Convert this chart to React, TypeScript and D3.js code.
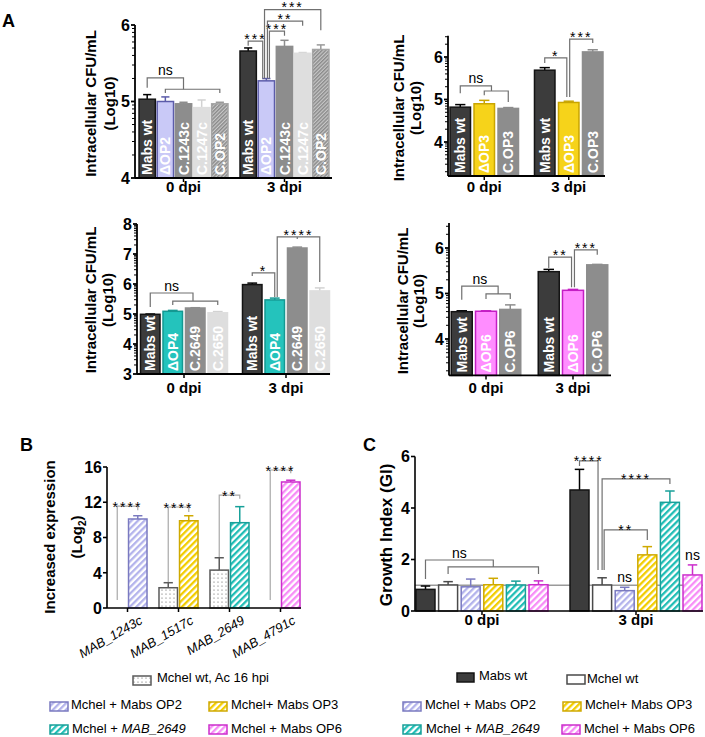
import React from "react";
import * as d3 from "d3";

const FONT = "'Liberation Sans', Arial, Helvetica, sans-serif";

// ================= DATA =================
const dpiGroups = ["0 dpi", "3 dpi"];

// Panel A (top-left) – OP2
const a1Strains = ["Mabs wt", "ΔOP2", "C.1243c", "C.1247c", "C.OP2"];
const a1Mean = [
  [5.03, 5.0, 4.97, 4.92, 4.97],
  [5.66, 5.27, 5.72, 5.63, 5.68],
];
const a1Err = [
  [0.06, 0.06, 0.02, 0.1, 0.02],
  [0.04, 0.03, 0.08, 0.01, 0.06],
];
const a1Ticks = [4, 5, 6];
const a1Sig = [
  { g: 0, s1: 0, s2: 2, level: 5.31, d1: 5.18, d2: 5.16, label: "ns" },
  { g: 0, s1: 1, s2: 4, level: 5.16, d1: 5.11, d2: 5.11, label: "" },
  { g: 1, s1: 0, s2: 0.8, level: 5.79, d1: 5.73, d2: 5.3, label: "***" },
  { g: 1, s1: 1.17, s2: 2, level: 5.92, d1: 5.3, d2: 5.86, label: "***" },
  { g: 1, s1: 1.06, s2: 3, level: 6.05, d1: 5.3, d2: 5.99, label: "**" },
  { g: 1, s1: 0.9, s2: 4, level: 6.2, d1: 5.3, d2: 5.93, label: "***" },
];

// Panel A (top-right) – OP3
const a2Strains = ["Mabs wt", "ΔOP3", "C.OP3"];
const a2Mean = [
  [4.82, 4.9, 4.79],
  [5.69, 4.93, 6.12],
];
const a2Err = [
  [0.06, 0.08, 0.02],
  [0.06, 0.03, 0.05],
];
const a2Ticks = [4, 5, 6];
const a2Sig = [
  { g: 0, s1: 0, s2: 1.3, level: 5.32, d1: 5.15, d2: 5.2, label: "ns" },
  { g: 0, s1: 1, s2: 2, level: 5.2, d1: 5.1, d2: 4.94, label: "" },
  { g: 1, s1: 0, s2: 0.92, level: 5.98, d1: 5.86, d2: 5.06, label: "*" },
  { g: 1, s1: 1.04, s2: 2, level: 6.42, d1: 5.06, d2: 6.33, label: "***" },
];

// Panel A (bottom-left) – OP4
const a3Strains = ["Mabs wt", "ΔOP4", "C.2649", "C.2650"];
const a3Mean = [
  [4.99, 5.09, 5.2, 5.04],
  [5.98, 5.47, 7.2, 5.77],
];
const a3Err = [
  [0.01, 0.03, 0.01, 0.04],
  [0.05, 0.06, 0.03, 0.1],
];
const a3Ticks = [3, 4, 5, 6, 7, 8];
const a3Sig = [
  { g: 0, s1: 0, s2: 1.9, level: 5.7, d1: 5.23, d2: 5.43, label: "ns" },
  { g: 0, s1: 1, s2: 3, level: 5.43, d1: 5.3, d2: 5.3, label: "" },
  { g: 1, s1: 0, s2: 1, level: 6.37, d1: 6.27, d2: 5.57, label: "*" },
  { g: 1, s1: 1.11, s2: 3, level: 7.57, d1: 5.57, d2: 6.07, label: "****", mid: 2, midDrop: 7.5 },
];

// Panel A (bottom-right) – OP6
const a4Strains = ["Mabs wt", "ΔOP6", "C.OP6"];
const a4Mean = [
  [4.6, 4.61, 4.65],
  [5.48, 5.07, 5.63],
];
const a4Err = [
  [0.02, 0.01, 0.1],
  [0.05, 0.02, 0.01],
];
const a4Ticks = [4, 5, 6];
const a4Sig = [
  { g: 0, s1: 0, s2: 1.5, level: 5.16, d1: 4.86, d2: 4.99, label: "ns" },
  { g: 0, s1: 1, s2: 2, level: 4.99, d1: 4.88, d2: 4.88, label: "" },
  { g: 1, s1: 0, s2: 0.94, level: 5.8, d1: 5.56, d2: 5.14, label: "**" },
  { g: 1, s1: 1.06, s2: 2, level: 5.96, d1: 5.14, d2: 5.85, label: "***" },
];

// Panel B – increased expression (Log2)
const bGenes = ["MAB_1243c", "MAB_1517c", "MAB_2649", "MAB_4791c"];
const bControl = [null, 2.3, 4.3, null];
const bControlErr = [null, 0.57, 1.4, null];
const bTreated = [10.1, 9.9, 9.68, 14.3];
const bTreatedErr = [0.37, 0.57, 1.82, 0.2];
const bTicks = [0, 4, 8, 12, 16];
const bSig = [
  { g: 0, s1: 0, s2: 1, level: 11.57, d1: 0.9, d2: 11.1, label: "****" },
  { g: 1, s1: 0, s2: 1, level: 11.46, d1: 2.95, d2: 10.9, label: "****" },
  { g: 2, s1: 0, s2: 1, level: 12.8, d1: 5.8, d2: 12.4, label: "**" },
  { g: 3, s1: 0, s2: 1, level: 15.66, d1: 0.9, d2: 15.3, label: "****" },
];

// Panel C – growth index
const cSeries = ["Mabs wt", "Mchel wt", "Mchel + Mabs OP2", "Mchel+ Mabs OP3", "Mchel + MAB_2649", "Mchel + Mabs OP6"];
const cMean0 = [0.84, 1.01, 0.94, 1.02, 1.01, 1.02];
const cErr0 = [0.13, 0.13, 0.3, 0.25, 0.15, 0.15];
const cMean3 = [4.7, 1.01, 0.79, 2.18, 4.22, 1.4];
const cErr3 = [0.8, 0.28, 0.13, 0.32, 0.44, 0.39];
const cTicks = [0, 2, 4, 6];
const cRef = 1;
const cSig = [
  { g: 0, s1: 0, s2: 3, level: 1.98, d1: 1.24, d2: 1.71, label: "ns" },
  { g: 0, s1: 1, s2: 5, level: 1.71, d1: 1.44, d2: 1.44, label: "" },
  { g: 1, s1: 0, s2: 0.82, level: 5.83, d1: 5.63, d2: 1.59, label: "****" },
  { g: 1, s1: 1, s2: 4, level: 5.13, d1: 1.59, d2: 4.93, label: "****" },
  { g: 1, s1: 1.09, s2: 3, level: 3.15, d1: 1.59, d2: 2.76, label: "**" },
];
const cNs = [
  { g: 1, s: 2 },
  { g: 1, s: 5 },
];

// ================= STYLE =================
const C = {
  dark: "#3c3c3c",
  darkS: "#141414",
  lav: "#c9c9f7",
  lavS: "#5c5caa",
  gray: "#8d8d8d",
  light: "#dedede",
  yellow: "#f6d31a",
  yellowS: "#c9a500",
  teal: "#24c3bc",
  tealS: "#149892",
  pink: "#ff8dff",
  pinkS: "#c41ec4",
  hLavS: "#7a7ac0",
  hYelS: "#cfa900",
  hTealS: "#17a099",
  hPinkS: "#cc2ecc",
};

type Sig = { g: number; s1: number; s2: number; level: number; d1: number; d2: number; label: string; mid?: number; midDrop?: number };

type Spec = {
  groups: string[];
  nSeries: number;
  mean: (number | null)[][];
  err: (number | null)[][];
  domain: [number, number];
  yBot: number;
  yTop: number;
  axisX: number;
  axisEnd: number;
  x0: number;
  x1: number;
  pi: number;
  po: number;
  bp: number;
  fill: (g: number, s: number) => string;
  stroke: (g: number, s: number) => string;
  errColor: (g: number, s: number) => string;
  strokeW: number;
  ticks: number[];
  minorLog: boolean;
  tickFont: number;
  axisW: number;
  inLabels?: string[];
  inLabelSize?: number;
  sig: Sig[];
  sigColor: string;
  starDy: number;
  ns?: { g: number; s: number }[];
  xLabelDy: number;
  xLabelRot?: boolean;
  refLine?: number;
};

function Panel({ sp }: { sp: Spec }) {
  const y = d3.scaleLinear().domain(sp.domain).range([sp.yBot, sp.yTop]);
  const xg = d3
    .scaleBand<string>()
    .domain(sp.groups)
    .range([sp.x0, sp.x1])
    .paddingInner(sp.pi)
    .paddingOuter(sp.po);
  const xs = d3
    .scaleBand<number>()
    .domain(d3.range(sp.nSeries))
    .range([0, xg.bandwidth()])
    .paddingInner(sp.bp);
  const bw = xs.bandwidth();
  const gx = (g: number) => xg(sp.groups[g]) as number;
  const cx = (g: number, s: number) => gx(g) + s * xs.step() + bw / 2;
  const base = y(sp.domain[0]);
  const minor: number[] = [];
  if (sp.minorLog) {
    for (let k = Math.floor(sp.domain[0]); k <= Math.ceil(sp.domain[1]); k++) {
      for (let m = 2; m <= 9; m++) {
        const v = k + Math.log10(m);
        if (v >= sp.domain[0] && v <= sp.domain[1]) minor.push(v);
      }
    }
  }
  const capW = bw * 0.5;
  return (
    <g>
      {sp.refLine !== undefined && (
        <line x1={sp.axisX} x2={sp.axisEnd} y1={y(sp.refLine)} y2={y(sp.refLine)} stroke="#9a9a9a" strokeWidth={1.5} />
      )}
      {sp.mean.map((row, g) =>
        row.map((v, s) => {
          if (v == null) return null;
          const e = sp.err[g][s];
          const x = cx(g, s);
          return (
            <g key={`bar${g}-${s}`}>
              {e != null && (
                <g stroke={sp.errColor(g, s)} strokeWidth={1.5}>
                  <line x1={x} x2={x} y1={y(v)} y2={y(v + e)} />
                  <line x1={x - capW / 2} x2={x + capW / 2} y1={y(v + e)} y2={y(v + e)} />
                </g>
              )}
              <rect
                x={gx(g) + (xs(s) as number)}
                y={y(v)}
                width={bw}
                height={base - y(v)}
                fill={sp.fill(g, s)}
                stroke={sp.stroke(g, s)}
                strokeWidth={sp.strokeW}
              />
              {sp.inLabels && (
                <text
                  transform={`translate(${x},${base - 3}) rotate(-90)`}
                  textAnchor="start"
                  dy="0.36em"
                  fill="#fff"
                  fontWeight="bold"
                  fontSize={sp.inLabelSize}
                >
                  {sp.inLabels[s]}
                </text>
              )}
            </g>
          );
        })
      )}
      {/* axes */}
      <line x1={sp.axisX} x2={sp.axisX} y1={base} y2={y(sp.domain[1])} stroke="#000" strokeWidth={sp.axisW} />
      <line x1={sp.axisX} x2={sp.axisEnd} y1={base} y2={base} stroke="#000" strokeWidth={sp.axisW} />
      {minor.map((v, i) => (
        <line key={`mn${i}`} x1={sp.axisX - 3} x2={sp.axisX} y1={y(v)} y2={y(v)} stroke="#000" strokeWidth={1} />
      ))}
      {sp.ticks.map((t) => (
        <g key={`t${t}`}>
          <line x1={sp.axisX - 4} x2={sp.axisX} y1={y(t)} y2={y(t)} stroke="#000" strokeWidth={sp.axisW} />
          <text x={sp.axisX - 5} y={y(t)} dy="0.36em" textAnchor="end" fontWeight="bold" fontSize={sp.tickFont}>
            {t}
          </text>
        </g>
      ))}
      {sp.groups.map((gname, g) => {
        const xc = gx(g) + xg.bandwidth() / 2;
        return (
          <g key={`gx${g}`}>
            <line x1={xc} x2={xc} y1={base} y2={base + 4} stroke="#000" strokeWidth={1.5} />
            {sp.xLabelRot ? (
              <text
                transform={`translate(${xc + 16},${base + 15}) rotate(-30)`}
                textAnchor="end"
                fontStyle="italic"
                fontSize={13}
              >
                {gname}
              </text>
            ) : (
              <text x={xc} y={base + sp.xLabelDy} textAnchor="middle" fontWeight="bold" fontSize={15}>
                {gname}
              </text>
            )}
          </g>
        );
      })}
      {/* significance */}
      {sp.sig.map((b, i) => {
        const xl = cx(b.g, b.s1);
        const xr = cx(b.g, b.s2);
        const yl = y(b.level);
        let d = `M${xl},${y(b.d1)}V${yl}H${xr}V${y(b.d2)}`;
        if (b.mid !== undefined) d += `M${cx(b.g, b.mid)},${yl}V${y(b.midDrop as number)}`;
        const star = b.label.startsWith("*");
        return (
          <g key={`sig${i}`}>
            <path d={d} fill="none" stroke={sp.sigColor} strokeWidth={1.2} />
            {b.label && (
              <text
                x={(xl + xr) / 2}
                y={star ? yl + sp.starDy : yl - 2.5}
                textAnchor="middle"
                fontSize={star ? 14 : 14}
                letterSpacing={star ? 2 : 0}
              >
                {b.label}
              </text>
            )}
          </g>
        );
      })}
      {sp.ns &&
        sp.ns.map((n, i) => {
          const v = (sp.mean[n.g][n.s] as number) + (sp.err[n.g][n.s] as number);
          return (
            <text key={`ns${i}`} x={cx(n.g, n.s)} y={y(v) - 5} textAnchor="middle" fontSize={14}>
              ns
            </text>
          );
        })}
    </g>
  );
}

function YLabel({ lines, xs, cy, size }: { lines: React.ReactNode[]; xs: number[]; cy: number; size: number }) {
  return (
    <g>
      {lines.map((l, i) => (
        <text
          key={i}
          transform={`translate(${xs[i]},${cy}) rotate(-90)`}
          textAnchor="middle"
          fontWeight="bold"
          fontSize={size}
        >
          {l}
        </text>
      ))}
    </g>
  );
}

// ================= SPECS =================
const a1Fill = [C.dark, C.lav, C.gray, C.light, "url(#hGray)"];
const a1Stroke = [C.darkS, C.lavS, C.gray, C.light, "#a5a5a5"];
const a1ErrC = ["#000", C.lavS, C.gray, "#d2d2d2", "#9a9a9a"];

const a1: Spec = {
  groups: dpiGroups,
  nSeries: a1Strains.length,
  mean: a1Mean,
  err: a1Err,
  domain: [4, 6],
  yBot: 178,
  yTop: 25,
  axisX: 135,
  axisEnd: 332,
  x0: 136.5,
  x1: 331.5,
  pi: 0.119,
  po: 0.025,
  bp: 0.1,
  fill: (g, s) => a1Fill[s],
  stroke: (g, s) => a1Stroke[s],
  errColor: (g, s) => a1ErrC[s],
  strokeW: 1.5,
  ticks: a1Ticks,
  minorLog: true,
  tickFont: 16,
  axisW: 1.8,
  inLabels: a1Strains,
  inLabelSize: 14,
  sig: a1Sig,
  sigColor: "#707070",
  starDy: 2.5,
  xLabelDy: 14,
};

const a2Fill = [C.dark, C.yellow, C.gray];
const a2Stroke = [C.darkS, C.yellowS, C.gray];
const a2ErrC = ["#000", C.yellowS, C.gray];
const a2: Spec = {
  groups: dpiGroups,
  nSeries: a2Strains.length,
  mean: a2Mean,
  err: a2Err,
  domain: [3.2, 6.5],
  yBot: 176,
  yTop: 35.75,
  axisX: 448,
  axisEnd: 605,
  x0: 449,
  x1: 604,
  pi: 0.189,
  po: 0.012,
  bp: 0.146,
  fill: (g, s) => a2Fill[s],
  stroke: (g, s) => a2Stroke[s],
  errColor: (g, s) => a2ErrC[s],
  strokeW: 1.5,
  ticks: a2Ticks,
  minorLog: true,
  tickFont: 16,
  axisW: 1.8,
  inLabels: a2Strains,
  inLabelSize: 14,
  sig: a2Sig,
  sigColor: "#707070",
  starDy: 3,
  xLabelDy: 16,
};

const a3Fill = [C.dark, C.teal, C.gray, C.light];
const a3Stroke = [C.darkS, C.tealS, C.gray, C.light];
const a3ErrC = ["#000", C.tealS, C.gray, "#d2d2d2"];
const a3: Spec = {
  groups: dpiGroups,
  nSeries: a3Strains.length,
  mean: a3Mean,
  err: a3Err,
  domain: [3, 8],
  yBot: 374,
  yTop: 224,
  axisX: 137,
  axisEnd: 330,
  x0: 139,
  x1: 331,
  pi: 0.147,
  po: 0.0147,
  bp: 0.133,
  fill: (g, s) => a3Fill[s],
  stroke: (g, s) => a3Stroke[s],
  errColor: (g, s) => a3ErrC[s],
  strokeW: 1.5,
  ticks: a3Ticks,
  minorLog: true,
  tickFont: 16,
  axisW: 1.8,
  inLabels: a3Strains,
  inLabelSize: 14,
  sig: a3Sig,
  sigColor: "#707070",
  starDy: 3,
  xLabelDy: 19,
};

const a4Fill = [C.dark, C.pink, C.gray];
const a4Stroke = [C.darkS, C.pinkS, C.gray];
const a4ErrC = ["#000", C.pinkS, C.gray];
const a4: Spec = {
  groups: dpiGroups,
  nSeries: a4Strains.length,
  mean: a4Mean,
  err: a4Err,
  domain: [3.2, 6.55],
  yBot: 375.4,
  yTop: 222.98,
  axisX: 449,
  axisEnd: 611,
  x0: 450,
  x1: 609,
  pi: 0.201,
  po: 0.0144,
  bp: 0.134,
  fill: (g, s) => a4Fill[s],
  stroke: (g, s) => a4Stroke[s],
  errColor: (g, s) => a4ErrC[s],
  strokeW: 1.5,
  ticks: a4Ticks,
  minorLog: true,
  tickFont: 16,
  axisW: 1.8,
  inLabels: a4Strains,
  inLabelSize: 14,
  sig: a4Sig,
  sigColor: "#707070",
  starDy: 3,
  xLabelDy: 18,
};

const bTreatFill = ["url(#hOP2)", "url(#hOP3)", "url(#h2649)", "url(#hOP6)"];
const bTreatStroke = [C.hLavS, C.hYelS, C.hTealS, C.hPinkS];
const b: Spec = {
  groups: bGenes,
  nSeries: 2,
  mean: bGenes.map((_, g) => [bControl[g], bTreated[g]]),
  err: bGenes.map((_, g) => [bControlErr[g], bTreatedErr[g]]),
  domain: [0, 16],
  yBot: 608,
  yTop: 467,
  axisX: 107,
  axisEnd: 301,
  x0: 107,
  x1: 301,
  pi: 0.235,
  po: 0.0196,
  bp: 0.1,
  fill: (g, s) => (s === 0 ? "url(#dots)" : bTreatFill[g]),
  stroke: (g, s) => (s === 0 ? "#5a5a5a" : bTreatStroke[g]),
  errColor: (g, s) => (s === 0 ? "#5a5a5a" : bTreatStroke[g]),
  strokeW: 1.5,
  ticks: bTicks,
  minorLog: false,
  tickFont: 16,
  axisW: 1.6,
  sig: bSig,
  sigColor: "#a8a8a8",
  starDy: 6,
  xLabelDy: 15,
  xLabelRot: true,
};

const cFill = [C.dark, "#fff", "url(#hOP2)", "url(#hOP3)", "url(#h2649)", "url(#hOP6)"];
const cStroke = [C.darkS, "#4a4a4a", C.hLavS, C.hYelS, C.hTealS, C.hPinkS];
const c: Spec = {
  groups: dpiGroups,
  nSeries: cSeries.length,
  mean: [cMean0, cMean3],
  err: [cErr0, cErr3],
  domain: [0, 6],
  yBot: 611,
  yTop: 456.5,
  axisX: 415,
  axisEnd: 703,
  x0: 415,
  x1: 703,
  pi: 0.143,
  po: 0.0065,
  bp: 0.16,
  fill: (g, s) => cFill[s],
  stroke: (g, s) => cStroke[s],
  errColor: (g, s) => (s === 0 ? "#000" : cStroke[s]),
  strokeW: 1.5,
  ticks: cTicks,
  minorLog: false,
  tickFont: 16,
  axisW: 1.6,
  sig: cSig,
  sigColor: "#707070",
  starDy: 5,
  ns: cNs,
  xLabelDy: 14,
  refLine: cRef,
};

function Defs() {
  const stripe = (id: string, color: string, period = 4.6, w = 2.3, bg = "#fff") => (
    <pattern id={id} patternUnits="userSpaceOnUse" width={period} height={period} patternTransform="rotate(45)">
      <rect width={period} height={period} fill={bg} />
      <rect width={w} height={period} fill={color} />
    </pattern>
  );
  return (
    <defs>
      {stripe("hGray", "#8a8a8a", 2.6, 1.4, "#c8c8c8")}
      {stripe("hOP2", "#b3b3ec")}
      {stripe("hOP3", "#f2cd00")}
      {stripe("h2649", "#1fbdb5")}
      {stripe("hOP6", "#f78cf7")}
      <pattern id="dots" patternUnits="userSpaceOnUse" width={4} height={4}>
        <rect width={4} height={4} fill="#fff" />
        <circle cx={2} cy={2} r={0.6} fill="#555" />
      </pattern>
    </defs>
  );
}

function Sw({ x, y, fill, stroke, w = 18, h = 9 }: { x: number; y: number; fill: string; stroke: string; w?: number; h?: number }) {
  return <rect x={x} y={y} width={w} height={h} fill={fill} stroke={stroke} strokeWidth={1.5} />;
}

export default function App() {
  return (
    <svg
      width={705}
      height={737}
      style={{ position: "absolute", left: 0, top: 0, background: "#fff" }}
      fontFamily={FONT}
    >
      <rect width={705} height={737} fill="#fff" />
      <Defs />
      <text x={2} y={27} fontSize={18} fontWeight="bold">A</text>
      <text x={20} y={451} fontSize={18} fontWeight="bold">B</text>
      <text x={363} y={451} fontSize={18} fontWeight="bold">C</text>

      <Panel sp={a1} />
      <Panel sp={a2} />
      <Panel sp={a3} />
      <Panel sp={a4} />
      <Panel sp={b} />
      <Panel sp={c} />

      <YLabel lines={["Intracellular CFU/mL", "(Log10)"]} xs={[96, 115]} cy={103.5} size={15} />
      <YLabel lines={["Intracellular CFU/mL", "(Log10)"]} xs={[404, 421]} cy={108} size={15} />
      <YLabel lines={["Intracellular CFU/mL", "(Log10)"]} xs={[96, 113]} cy={300} size={15} />
      <YLabel lines={["Intracellular CFU/mL", "(Log10)"]} xs={[408, 424]} cy={301} size={15} />
      <YLabel
        lines={[
          "Increased expression",
          <>
            <tspan>(Log</tspan>
            <tspan fontSize={10} dy={4}>2</tspan>
            <tspan dy={-4}>)</tspan>
          </>,
        ]}
        xs={[55, 82]}
        cy={537}
        size={15}
      />
      <YLabel lines={["Growth Index (GI)"]} xs={[392]} cy={535} size={17} />

      {/* Legend B */}
      <g fontSize={13}>
        <Sw x={133} y={676} fill="url(#dots)" stroke="#5a5a5a" />
        <text x={157} y={681.5}>Mchel wt, Ac 16 hpi</text>
        <Sw x={50} y={702} fill="url(#hOP2)" stroke={C.hLavS} />
        <text x={71} y={709}>Mchel + Mabs OP2</text>
        <Sw x={209} y={702} fill="url(#hOP3)" stroke={C.hYelS} />
        <text x={231} y={709}>Mchel+ Mabs OP3</text>
        <Sw x={50} y={725} fill="url(#h2649)" stroke={C.hTealS} />
        <text x={72} y={733}>
          Mchel + <tspan fontStyle="italic">MAB_2649</tspan>
        </text>
        <Sw x={209} y={725} fill="url(#hOP6)" stroke={C.hPinkS} />
        <text x={231} y={733}>Mchel + Mabs OP6</text>
      </g>

      {/* Legend C */}
      <g fontSize={13}>
        <Sw x={457} y={673} fill={C.dark} stroke={C.darkS} w={17} />
        <text x={479} y={680}>Mabs wt</text>
        <Sw x={567} y={675} fill="#fff" stroke="#4a4a4a" />
        <text x={587} y={683}>Mchel wt</text>
        <Sw x={403} y={702} fill="url(#hOP2)" stroke={C.hLavS} />
        <text x={425} y={709}>Mchel + Mabs OP2</text>
        <Sw x={563} y={702} fill="url(#hOP3)" stroke={C.hYelS} />
        <text x={585} y={709}>Mchel+ Mabs OP3</text>
        <Sw x={403} y={725} fill="url(#h2649)" stroke={C.hTealS} />
        <text x={426} y={733}>
          Mchel + <tspan fontStyle="italic">MAB_2649</tspan>
        </text>
        <Sw x={562} y={725} fill="url(#hOP6)" stroke={C.hPinkS} />
        <text x={584} y={733}>Mchel + Mabs OP6</text>
      </g>
    </svg>
  );
}
